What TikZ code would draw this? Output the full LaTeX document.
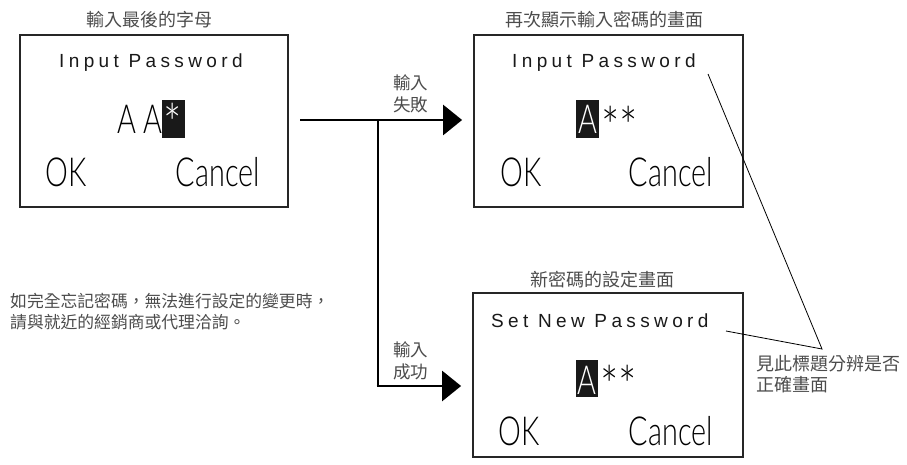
\documentclass[tikz,border=0pt]{standalone}
\usepackage{fontspec}
\setmainfont{Liberation Sans}
\newfontfamily\cjk{Noto Sans CJK TC}
\newfontfamily\spaced[LetterSpace=23]{Liberation Sans}
\newfontfamily\lcdlight{Lato Light}
\usetikzlibrary{arrows.meta}
\newcommand\condtxt[1]{\scalebox{0.72}[1]{\lcdlight\fontsize{40}{40}\selectfont #1}}
\newcommand\asttxt[1]{\scalebox{0.8}[1]{\lcdlight\fontsize{54}{54}\selectfont #1}}
\begin{document}
\begin{tikzpicture}[x=1pt,y=-1pt,
  screen/.style={draw=black!85,line width=1.8pt,inner sep=0pt},
  title/.style={text=black!70,font=\cjk\fontsize{18}{22}\selectfont,inner sep=0pt},
  note/.style={text=black!70,font=\cjk\fontsize{17.5}{22}\selectfont,inner sep=0pt,align=left},
  lcdhead/.style={font=\spaced\fontsize{19}{20}\selectfont,inner sep=0pt,anchor=base west,text=black!90},
  big/.style={inner sep=0pt},
  hl/.style={fill=black!90,inner sep=0pt},
  flow/.style={line width=2.7pt,-{Triangle[length=19pt,width=30pt]}},
  pointer/.style={line width=0.8pt}]
\useasboundingbox (0,0) rectangle (907,465);

% screens
\node[screen,minimum width=268pt,minimum height=172pt] (box1) at (154,121) {};
\node[screen,minimum width=269pt,minimum height=172pt] (box2) at (608.5,121) {};
\node[screen,minimum width=270pt,minimum height=164pt] (box3) at (608,375) {};

% titles
\node[title] (t1) at (149,20) {輸入最後的字母};
\node[title] (t2) at (604.5,20) {再次顯示輸入密碼的畫面};
\node[title] (t3) at (602.5,280) {新密碼的設定畫面};

% screen 1
\node[lcdhead] (h1) at (59,68) {Input Password};
\node[big,anchor=base west] (aa1) at (117,134) {\condtxt{A A}};
\node[hl,minimum width=23pt,minimum height=38pt] (hl1) at (173.5,119) {};
\node[big,anchor=north,text=white] (st1) at (172.5,103) {\asttxt{*}};
\node[big,anchor=base west] (ok1) at (45,187) {\condtxt{OK}};
\node[big,anchor=base east] (cn1) at (260,187) {\condtxt{Cancel}};

% screen 2
\node[lcdhead] (h2) at (512,68) {Input Password};
\node[hl,minimum width=23pt,minimum height=38pt] (hl2) at (587.5,119) {};
\node[big,anchor=base,text=white] (a2) at (587.5,134) {\condtxt{A}};
\node[big,anchor=north west] (st2) at (601,106) {\asttxt{**}};
\node[big,anchor=base west] (ok2) at (500,187) {\condtxt{OK}};
\node[big,anchor=base east] (cn2) at (713,187) {\condtxt{Cancel}};

% screen 3
\node[lcdhead] (h3) at (491,327) {Set New Password};
\node[hl,minimum width=22pt,minimum height=37pt] (hl3) at (587,378.5) {};
\node[big,anchor=base,text=white] (a3) at (587,394) {\condtxt{A}};
\node[big,anchor=north west] (st3) at (600,365) {\asttxt{**}};
\node[big,anchor=base west] (ok3) at (498,445) {\condtxt{OK}};
\node[big,anchor=base east] (cn3) at (713,445) {\condtxt{Cancel}};

% flow
\coordinate (start) at (300,120);
\coordinate (split) at (378,120);
\coordinate (bend) at (378,386);
\draw[flow] (start) -- ([xshift=-11pt]start -| box2.west);
\draw[line width=2.7pt] (split) -- (bend);
\draw[flow] ([xshift=-1.35pt]bend) -- ([xshift=-11pt]bend -| box3.west);

\node[note,anchor=west] (fail) at (393,93.5) {輸入\\失敗};
\node[note,anchor=west] (ok) at (393,361) {輸入\\成功};

% remarks
\node[note,anchor=west,font=\cjk\fontsize{16.8}{21}\selectfont] (forget) at (10,312) {如完全忘記密碼，無法進行設定的變更時，\\請與就近的經銷商或代理洽詢。};
\node[note,anchor=north west,font=\cjk\fontsize{18}{21}\selectfont] (see) at (756,355) {見此標題分辨是否\\正確畫面};
\coordinate (meet) at (822,349);
\coordinate (p1) at (708,74);
\coordinate (p2) at (726,331);
\draw[pointer] (p1) -- (meet) -- (p2);
\end{tikzpicture}
\end{document}
